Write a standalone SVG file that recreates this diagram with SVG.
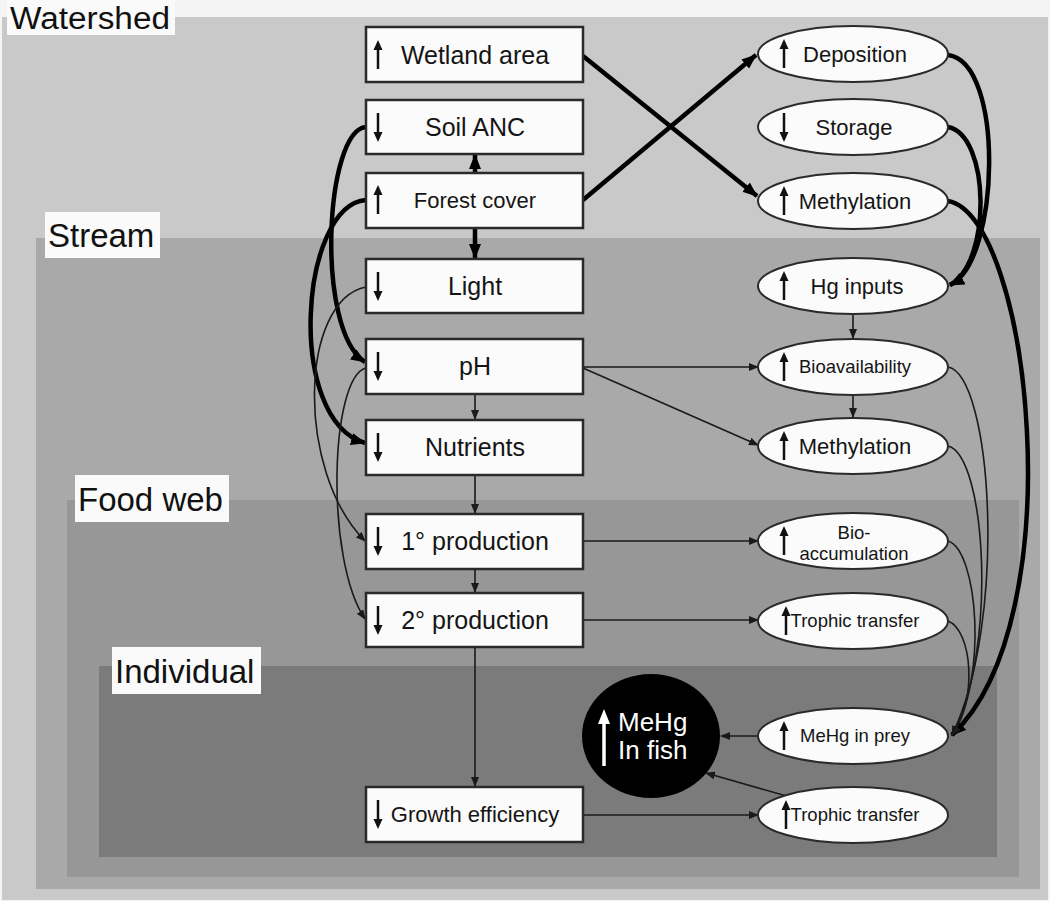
<svg xmlns="http://www.w3.org/2000/svg" width="1050" height="901" viewBox="0 0 1050 901">
<style>
.lbl{font-family:"Liberation Sans",Arial,sans-serif;font-size:33px;fill:#111}
.lblbg{fill:#fafafa}
.box rect{fill:#fbfbfb;stroke:#2a2a2a;stroke-width:2.5}
.ell ellipse{fill:#fbfbfb;stroke:#2a2a2a;stroke-width:2}
.t{font-family:"Liberation Sans",Arial,sans-serif;fill:#151515;text-anchor:middle}
.b25{font-size:25px}
.b22{font-size:22px}
.e18{font-size:18.5px}
.thick{fill:none;stroke:#000;stroke-width:4.5;marker-end:url(#ah)}
.thin{fill:none;stroke:#1a1a1a;stroke-width:1.6;marker-end:url(#at)}
</style>
<defs>
<marker id="ah" markerUnits="userSpaceOnUse" markerWidth="15" markerHeight="12" refX="14" refY="6" orient="auto"><path d="M0,0 L15,6 L0,12 z" fill="#000"/></marker>
<marker id="at" markerUnits="userSpaceOnUse" markerWidth="10" markerHeight="8" refX="9" refY="4" orient="auto"><path d="M0,0 L10,4 L0,8 z" fill="#1a1a1a"/></marker>
<g id="up"><line x1="0" y1="-7" x2="0" y2="14" stroke="#111" stroke-width="2.5"/><path d="M0,-15 L-4.5,-5 L4.5,-5 z" fill="#111"/></g>
<g id="dn"><line x1="0" y1="-14" x2="0" y2="7" stroke="#111" stroke-width="2.5"/><path d="M0,15 L-4.5,5 L4.5,5 z" fill="#111"/></g>
</defs>

<g id="regions">
<rect x="0" y="0" width="1050" height="901" fill="#f4f4f4"/>
<rect x="2" y="17" width="1046" height="883" fill="#c9c9c9"/>
<rect x="36" y="238" width="1004" height="651" fill="#a9a9a9"/>
<rect x="67" y="500" width="952" height="377" fill="#979797"/>
<rect x="99" y="666" width="898" height="191" fill="#7b7b7b"/>
</g>

<g id="labels">
<rect class="lblbg" x="7" y="0" width="168" height="35"/>
<text class="lbl" x="10" y="29" font-size="31" style="font-size:31px" textLength="160" lengthAdjust="spacingAndGlyphs">Watershed</text>
<rect class="lblbg" x="45" y="212" width="115" height="46"/>
<text class="lbl" x="48" y="247">Stream</text>
<rect class="lblbg" x="75" y="475" width="154" height="47"/>
<text class="lbl" x="78" y="511">Food web</text>
<rect class="lblbg" x="112" y="647" width="149" height="47"/>
<text class="lbl" x="115" y="683">Individual</text>
</g>

<g id="connectors">
<path class="thick" d="M583,56 L757,196"/>
<path class="thick" d="M583,200 L756,55"/>
<path class="thick" d="M475,173 L475,155"/>
<path class="thick" d="M475,228 L475,258"/>
<path class="thick" d="M366,127 C325,130 315,330 365,362"/>
<path class="thick" d="M366,200 C300,205 285,420 365,443"/>
<path class="thin" d="M366,287 C300,300 295,470 365,541"/>
<path class="thin" d="M366,368 C330,377 325,560 365,619"/>
<path class="thin" d="M475,394 L475,419"/>
<path class="thin" d="M475,475 L475,513"/>
<path class="thin" d="M475,569 L475,592"/>
<path class="thin" d="M475,647 L475,786"/>
<path class="thin" d="M583,367 L758,367"/>
<path class="thin" d="M583,368 L758,445"/>
<path class="thin" d="M583,541 L758,541"/>
<path class="thin" d="M583,620 L758,620"/>
<path class="thin" d="M583,815 L758,815"/>
<path class="thin" d="M853,314 L853,338"/>
<path class="thin" d="M853,395 L853,417"/>
<path class="thin" d="M759,736 L721,736"/>
<path class="thin" d="M790,797 L706,773"/>
<path class="thick" d="M948,55 C1005,62 1000,262 950,285"/>
<path class="thick" d="M948,127 C990,135 992,262 950,285"/>
<path class="thick" d="M948,201 C1030,215 1075,620 952,735"/>
<path class="thin" d="M948,367 C992,375 1008,620 952,735"/>
<path class="thin" d="M948,446 C986,455 998,650 952,735"/>
<path class="thin" d="M948,541 C978,550 988,680 952,735"/>
<path class="thin" d="M948,621 C972,630 978,700 952,735"/>
</g>

<g id="n-wetland" class="box"><rect x="366" y="27" width="217" height="55"/><use href="#up" x="378" y="55"/><text class="t b25" x="475" y="64">Wetland area</text></g>
<g id="n-soilanc" class="box"><rect x="366" y="100" width="217" height="54"/><use href="#dn" x="378" y="127"/><text class="t b25" x="475" y="136">Soil ANC</text></g>
<g id="n-forest" class="box"><rect x="366" y="173" width="217" height="55"/><use href="#up" x="378" y="200"/><text class="t b22" x="475" y="208">Forest cover</text></g>
<g id="n-light" class="box"><rect x="366" y="259" width="217" height="54"/><use href="#dn" x="378" y="286"/><text class="t b25" x="475" y="295">Light</text></g>
<g id="n-ph" class="box"><rect x="366" y="339" width="217" height="55"/><use href="#dn" x="378" y="366"/><text class="t b25" x="475" y="375">pH</text></g>
<g id="n-nutrients" class="box"><rect x="366" y="420" width="217" height="55"/><use href="#dn" x="378" y="447"/><text class="t b25" x="475" y="456">Nutrients</text></g>
<g id="n-prod1" class="box"><rect x="366" y="514" width="217" height="55"/><use href="#dn" x="378" y="541"/><text class="t b25" x="475" y="550">1° production</text></g>
<g id="n-prod2" class="box"><rect x="366" y="593" width="217" height="54"/><use href="#dn" x="378" y="620"/><text class="t b25" x="475" y="629">2° production</text></g>
<g id="n-growth" class="box"><rect x="366" y="787" width="217" height="55"/><use href="#dn" x="378" y="814"/><text class="t b22" x="475" y="822">Growth efficiency</text></g>

<g id="n-deposition" class="ell"><ellipse cx="853" cy="54" rx="95" ry="28"/><use href="#up" x="784" y="54"/><text class="t b22" x="855" y="62">Deposition</text></g>
<g id="n-storage" class="ell"><ellipse cx="853" cy="127" rx="95" ry="28"/><use href="#dn" x="784" y="127"/><text class="t b22" x="854" y="135">Storage</text></g>
<g id="n-methyl1" class="ell"><ellipse cx="853" cy="201" rx="95" ry="28"/><use href="#up" x="784" y="201"/><text class="t b22" x="855" y="209">Methylation</text></g>
<g id="n-hginputs" class="ell"><ellipse cx="853" cy="286" rx="95" ry="28"/><use href="#up" x="784" y="286"/><text class="t b22" x="857" y="294">Hg inputs</text></g>
<g id="n-bioavail" class="ell"><ellipse cx="853" cy="367" rx="95" ry="28"/><use href="#up" x="784" y="367"/><text class="t e18" x="855" y="373">Bioavailability</text></g>
<g id="n-methyl2" class="ell"><ellipse cx="853" cy="446" rx="95" ry="28"/><use href="#up" x="784" y="446"/><text class="t b22" x="855" y="454">Methylation</text></g>
<g id="n-bioaccum" class="ell"><ellipse cx="853" cy="541" rx="95" ry="28"/><use href="#up" x="784" y="541"/><text class="t e18" x="854" y="539">Bio-</text><text class="t e18" x="854" y="560">accumulation</text></g>
<g id="n-trophic1" class="ell"><ellipse cx="853" cy="621" rx="95" ry="28"/><use href="#up" x="786" y="621"/><text class="t e18" x="855" y="627">Trophic transfer</text></g>
<g id="n-prey" class="ell"><ellipse cx="853" cy="736" rx="95" ry="28"/><use href="#up" x="784" y="736"/><text class="t e18" x="855" y="742">MeHg in prey</text></g>
<g id="n-trophic2" class="ell"><ellipse cx="853" cy="815" rx="95" ry="28"/><use href="#up" x="786" y="815"/><text class="t e18" x="855" y="821">Trophic transfer</text></g>

<g id="n-fish">
<ellipse cx="651" cy="736" rx="69" ry="62" fill="#000"/>
<line x1="604" y1="722" x2="604" y2="766" stroke="#fff" stroke-width="3.5"/>
<path d="M604,709 L598,724 L610,724 z" fill="#fff"/>
<text x="618" y="731" font-family="Liberation Sans, Arial, sans-serif" font-size="26" fill="#fff">MeHg</text>
<text x="618" y="759" font-family="Liberation Sans, Arial, sans-serif" font-size="26" fill="#fff">In fish</text>
</g>
</svg>
